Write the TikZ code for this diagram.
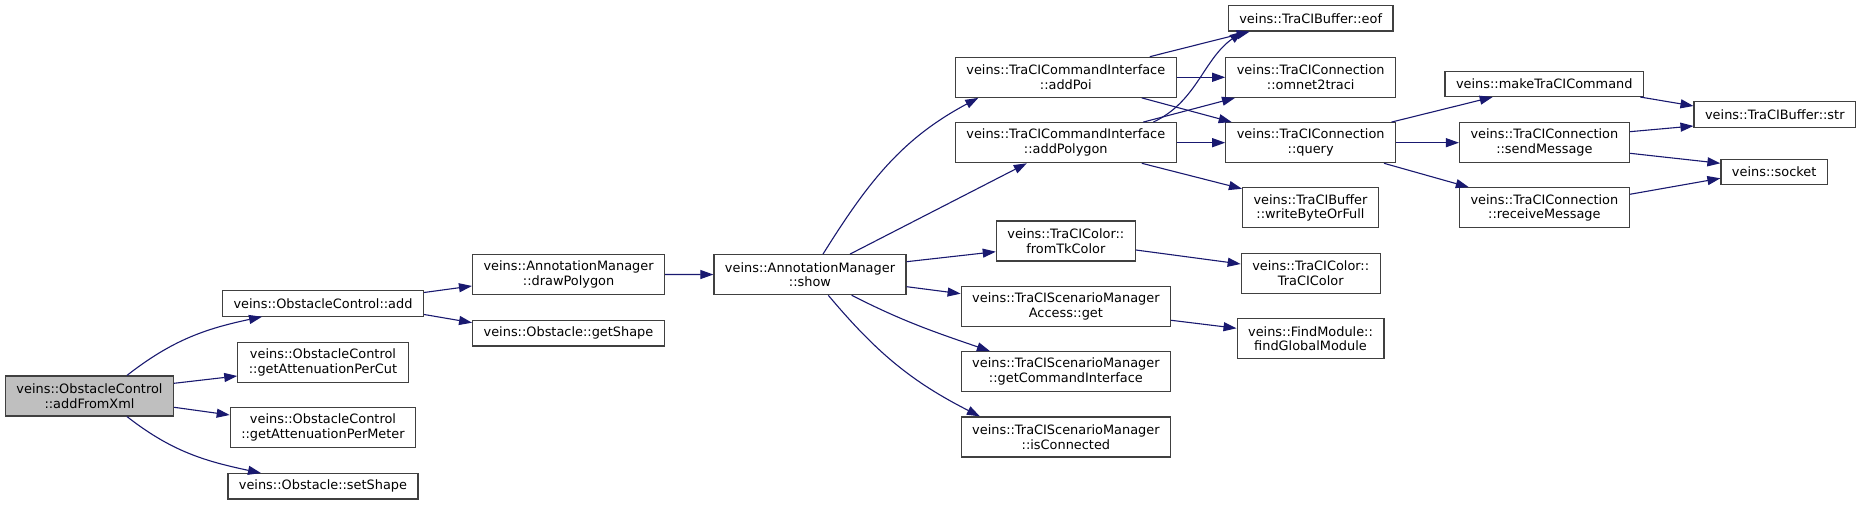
\documentclass[tikz,border=0pt]{standalone}
\usepackage{fontspec}
\setmainfont{DejaVu Sans}
\usepackage{tikz}
\usetikzlibrary{arrows.meta}
\definecolor{cgEdge}{HTML}{191970}
\definecolor{cgBorder}{HTML}{404040}
\definecolor{cgRoot}{HTML}{BFBFBF}
\begin{document}
\begin{tikzpicture}[x=1pt, y=1pt, font=\fontsize{12.9}{14.7}\selectfont,
  fn/.style={draw=cgBorder,line width=1.2pt,fill=white,inner xsep=11pt,inner ysep=2pt,minimum height=25.3pt,align=center},
  fn2/.style={fn,minimum height=40pt},
  call/.style={cgEdge,line width=1.1pt,-{Triangle[length=13pt,width=9pt]}}]
\path[use as bounding box,fill=white] (0,0) rectangle (1861,505);
\node[fn2,fill=cgRoot] (addFromXml) at (89.5,109) {veins::ObstacleControl\\::addFromXml};
\node[fn] (add) at (323,201.5) {veins::ObstacleControl::add};
\node[fn2] (perCut) at (323,142.5) {veins::ObstacleControl\\::getAttenuationPerCut};
\node[fn2] (perMeter) at (323,77.3) {veins::ObstacleControl\\::getAttenuationPerMeter};
\node[fn] (setShape) at (323,18.7) {veins::Obstacle::setShape};
\node[fn2] (drawPolygon) at (568.6,230.7) {veins::AnnotationManager\\::drawPolygon};
\node[fn] (getShape) at (568.5,171.7) {veins::Obstacle::getShape};
\node[fn2] (show) at (810,230.3) {veins::AnnotationManager\\::show};
\node[fn2] (addPoi) at (1065.8,427.7) {veins::TraCICommandInterface\\::addPoi};
\node[fn2] (addPolygon) at (1065.8,362.3) {veins::TraCICommandInterface\\::addPolygon};
\node[fn2] (fromTkColor) at (1065.8,264) {veins::TraCIColor::\\fromTkColor};
\node[fn2] (accessGet) at (1065.9,198.3) {veins::TraCIScenarioManager\\Access::get};
\node[fn2] (getCmdIf) at (1065.9,133.3) {veins::TraCIScenarioManager\\::getCommandInterface};
\node[fn2] (isConnected) at (1065.9,68) {veins::TraCIScenarioManager\\::isConnected};
\node[fn] (eof) at (1310.7,486.7) {veins::TraCIBuffer::eof};
\node[fn2] (omnet2traci) at (1310.7,427.7) {veins::TraCIConnection\\::omnet2traci};
\node[fn2] (query) at (1310.7,362.3) {veins::TraCIConnection\\::query};
\node[fn2] (writeByte) at (1310.5,297.2) {veins::TraCIBuffer\\::writeByteOrFull};
\node[fn2] (traciColor) at (1310.7,231.7) {veins::TraCIColor::\\TraCIColor};
\node[fn2] (findGlobal) at (1310.5,166.3) {veins::FindModule::\\findGlobalModule};
\node[fn] (makeCmd) at (1544.3,421.2) {veins::makeTraCICommand};
\node[fn2] (sendMsg) at (1544.4,362.3) {veins::TraCIConnection\\::sendMessage};
\node[fn2] (recvMsg) at (1544.4,297.2) {veins::TraCIConnection\\::receiveMessage};
\node[fn] (str) at (1774.8,390.5) {veins::TraCIBuffer::str};
\node[fn] (socket) at (1774.2,333) {veins::socket};
\foreach \a/\b in {drawPolygon/show,addPoi/omnet2traci,addPolygon/query,query/sendMsg}
  \draw[call] (\a) -- (\b);
\draw[call] ([xshift=37.5pt]addFromXml.north) to[out=38,in=192] ([xshift=-61pt]add.south);
\draw[call] ([yshift=12.7pt]addFromXml.east) -- ([yshift=-13.5pt]perCut.west);
\draw[call] ([yshift=-11.3pt]addFromXml.east) -- ([yshift=12.7pt]perMeter.west);
\draw[call] ([xshift=37.5pt]addFromXml.south) to[out=-38,in=168] ([xshift=-62pt]setShape.north);
\draw[call] ([yshift=11pt]add.east) -- ([yshift=-11.7pt]drawPolygon.west);
\draw[call] ([yshift=-11pt]add.east) -- ([yshift=10.6pt]getShape.west);
\draw[call] ([xshift=13pt]show.north) to[out=58,in=208] ([xshift=-87.5pt]addPoi.south);
\draw[call] ([xshift=40pt]show.north) -- ([xshift=-39pt]addPolygon.south);
\draw[call] ([yshift=13pt]show.east) -- ([yshift=-10.7pt]fromTkColor.west);
\draw[call] ([yshift=-12pt]show.east) -- ([yshift=13pt]accessGet.west);
\draw[call] ([xshift=41.7pt]show.south) to[out=-27,in=161] ([xshift=-76pt]getCmdIf.north);
\draw[call] ([xshift=18.3pt]show.south) to[out=-50,in=153] ([xshift=-86pt]isConnected.north);
\draw[call] ([xshift=84pt]addPoi.north) -- ([xshift=-61pt]eof.south);
\draw[call] ([xshift=76pt]addPoi.south) -- ([xshift=-79pt]query.north);
\draw[call] ([xshift=87.5pt]addPolygon.north) to[out=25,in=215,distance=48pt] ([xshift=-68pt]eof.south);
\draw[call] ([xshift=77.5pt]addPolygon.north) -- ([xshift=-75.7pt]omnet2traci.south);
\draw[call] ([xshift=76pt]addPolygon.south) -- ([yshift=19pt]writeByte.west);
\draw[call] ([xshift=80.8pt]query.north) -- ([xshift=-51.6pt]makeCmd.south);
\draw[call] ([xshift=73.3pt]query.south) -- ([xshift=-75.6pt]recvMsg.north);
\draw[call] ([xshift=96pt]makeCmd.south) -- ([yshift=8.5pt]str.west);
\draw[call] ([yshift=11pt]sendMsg.east) -- ([yshift=-11.5pt]str.west);
\draw[call] ([yshift=-10.6pt]sendMsg.east) -- ([yshift=8.7pt]socket.west);
\draw[call] ([yshift=13.5pt]recvMsg.east) -- ([yshift=-6.3pt]socket.west);
\draw[call] ([yshift=-9pt]fromTkColor.east) -- ([yshift=9.3pt]traciColor.west);
\draw[call] ([yshift=-13.6pt]accessGet.east) -- ([yshift=10.4pt]findGlobal.west);
\end{tikzpicture}
\end{document}
